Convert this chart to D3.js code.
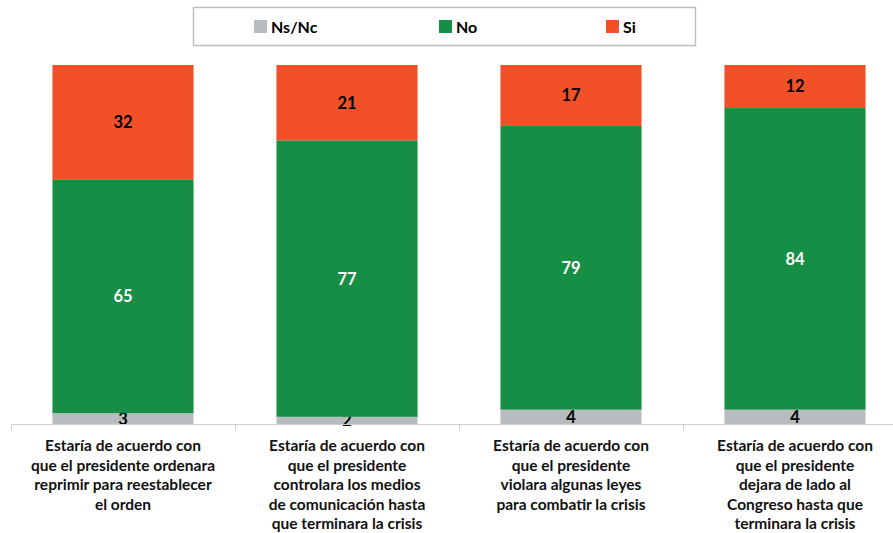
<!DOCTYPE html>
<html><head><meta charset="utf-8">
<script src="https://cdn.jsdelivr.net/npm/d3@7"></script>
<style>body{margin:0;background:#fff}svg{display:block}text{font-family:Lato,"Open Sans",sans-serif;font-weight:700}</style>
</head><body><svg id="c" width="893" height="533"></svg>
<script>
const categories = [
  "Estaría de acuerdo con\nque el presidente ordenara\nreprimir para reestablecer\nel orden",
  "Estaría de acuerdo con\nque el presidente\ncontrolara los medios\nde comunicación hasta\nque terminara la crisis",
  "Estaría de acuerdo con\nque el presidente\nviolara algunas leyes\npara combatir la crisis",
  "Estaría de acuerdo con\nque el presidente\ndejara de lado al\nCongreso hasta que\nterminara la crisis"
];
const seriesNames = ["Ns/Nc", "No", "Si"];
const nsnc = [3, 2, 4, 4];
const no = [65, 77, 79, 84];
const si = [32, 21, 17, 12];
const colors = ["#b9bcbf", "#178e46", "#f15028"];
const labelColors = ["#000", "#fff", "#000"];

const svg = d3.select("#c");
const rows = categories.map((c, i) => ({cat: c, "Ns/Nc": nsnc[i], "No": no[i], "Si": si[i]}));
const stack = d3.stack().keys(seriesNames)(rows);

const x = d3.scaleBand().domain(categories).range([11, 907]).paddingInner(0.37).paddingOuter(0.185);
const y = d3.scaleLinear().domain([0, 100]).range([424, 65]);
const step = x.step();

// bars
stack.forEach((s, si_) => {
  const g = svg.append("g");
  g.selectAll("rect").data(s).join("rect")
    .attr("x", d => x(d.data.cat))
    .attr("width", x.bandwidth())
    .attr("y", d => y(d[1]))
    .attr("height", d => y(d[0]) - y(d[1]))
    .attr("fill", colors[si_]);
  g.selectAll("text").data(s).join("text")
    .attr("x", d => x(d.data.cat) + x.bandwidth() / 2)
    .attr("y", d => (y(d[0]) + y(d[1])) / 2)
    .attr("dy", "0.36em")
    .attr("text-anchor", "middle")
    .attr("font-size", 16.5)
    .attr("fill", labelColors[si_])
    .text(d => d[1] - d[0]);
});

// axis
const bounds = categories.map(c => x(c) - x.paddingInner() * step / 2);
bounds.push(bounds[bounds.length - 1] + step);
svg.append("line").attr("x1", bounds[0]).attr("x2", 893).attr("y1", y(0) + 0.5).attr("y2", y(0) + 0.5)
  .attr("stroke", "#d0d0d0").attr("stroke-width", 1);
svg.selectAll(".tick").data(bounds).join("line").attr("class", "tick")
  .attr("x1", d => d + 0.5).attr("x2", d => d + 0.5).attr("y1", y(0)).attr("y2", y(0) + 6)
  .attr("stroke", "#d0d0d0");

// category labels
categories.forEach(c => {
  const t = svg.append("text").attr("text-anchor", "middle").attr("font-size", 15.5).attr("fill", "#111");
  c.split("\n").forEach((line, i) => {
    t.append("tspan").attr("x", x(c) + x.bandwidth() / 2).attr("y", 451 + i * 19.5).text(line);
  });
});

// legend
svg.append("rect").attr("x", 193.5).attr("y", 7.5).attr("width", 502).attr("height", 38)
  .attr("fill", "#fff").attr("stroke", "#bfbfbf").attr("stroke-width", 1.5);
const legX = [254, 439, 606];
seriesNames.forEach((n, i) => {
  svg.append("rect").attr("x", legX[i]).attr("y", 20).attr("width", 13).attr("height", 13).attr("fill", colors[i]);
  svg.append("text").attr("x", legX[i] + 17).attr("y", 27).attr("dy", "0.36em").attr("font-size", 16).attr("fill", "#000").text(n);
});
</script></body></html>
